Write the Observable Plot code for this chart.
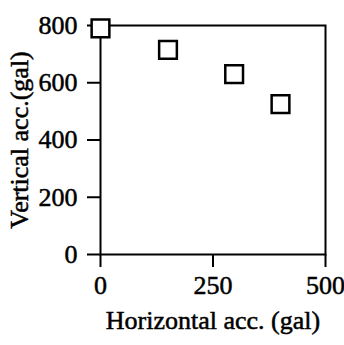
<!DOCTYPE html>
<html>
<head>
<meta charset="utf-8">
<script src="https://cdn.jsdelivr.net/npm/d3@7"></script>
<script src="https://cdn.jsdelivr.net/npm/@observablehq/plot@0.6"></script>
<style>
  html, body { margin: 0; padding: 0; background: #fff; }
  svg { display: block; }
  svg text { stroke: #000; stroke-width: 0.5px; }
</style>
</head>
<body>
<div id="chart"></div>
<script>
const horizontalAcc = [0, 150, 297, 400];
const verticalAcc = [790, 715, 630, 525];
const xTicks = [0, 250, 500];
const yTicks = [0, 200, 400, 600, 800];
const xLabel = "Horizontal acc. (gal)";
const yLabel = "Vertical acc.(gal)";

const data = horizontalAcc.map((h, i) => ({h, v: verticalAcc[i]}));
const font = "'Liberation Serif', 'DejaVu Serif', serif";

const chart = Plot.plot({
  width: 344,
  height: 345,
  marginLeft: 100,
  marginRight: 19,
  marginTop: 25,
  marginBottom: 91,
  style: {fontFamily: font, fontSize: "26px", color: "#000", background: "#fff", overflow: "visible"},
  x: {domain: [0, 500], axis: null},
  y: {domain: [0, 800], axis: null},
  marks: [
    Plot.frame({stroke: "#000", strokeWidth: 2}),
    Plot.axisX(xTicks, {tickSize: 13, tickPadding: 8, strokeWidth: 2, fontSize: 26, label: null}),
    Plot.axisY(yTicks, {tickSize: 13, tickPadding: 10, strokeWidth: 2, fontSize: 26, label: null}),
    Plot.dot(data, {x: "h", y: "v", symbol: "square", r: 10, stroke: "#000", strokeWidth: 2.5, fill: "#fff", clip: false}),
    Plot.text([xLabel], {frameAnchor: "bottom", dy: 74, text: d => d, fontSize: 26, textAnchor: "middle"}),
    Plot.text([yLabel], {frameAnchor: "left", dx: -81, rotate: -90, text: d => d, fontSize: 26, textAnchor: "middle"})
  ]
});
document.getElementById("chart").appendChild(chart);
</script>
</body>
</html>
